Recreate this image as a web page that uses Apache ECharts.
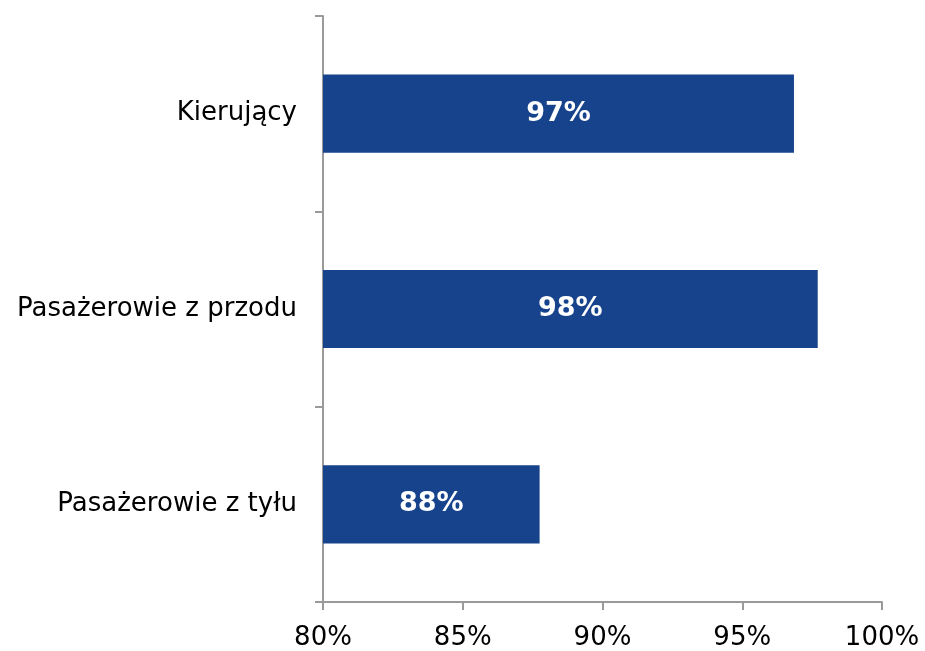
<!DOCTYPE html>
<html>
<head>
<meta charset="utf-8">
<script src="https://cdn.jsdelivr.net/npm/echarts@6/dist/echarts.min.js"></script>
<style>
html,body{margin:0;padding:0;background:#fff;}
#c{width:925px;height:651px;}
</style>
</head>
<body>
<div id="c"></div>
<script>
const categories = ['Kierujący', 'Pasażerowie z przodu', 'Pasażerowie z tyłu'];
const values = [96.85, 97.7, 87.75];
const valueLabels = ['97%', '98%', '88%'];

const chart = echarts.init(document.getElementById('c'), null, {renderer: 'canvas'});
const font = 'DejaVu Sans, Verdana, sans-serif';
chart.setOption({
  animation: false,
  backgroundColor: '#ffffff',
  grid: {left: 323, right: 43, top: 16, bottom: 47, containLabel: false},
  xAxis: {
    type: 'value',
    min: 80, max: 100, interval: 5,
    axisLine: {show: true, lineStyle: {color: '#9a9a9a', width: 2}},
    axisTick: {show: true, length: 8, lineStyle: {color: '#9a9a9a', width: 2}},
    splitLine: {show: false},
    axisLabel: {formatter: '{value}%', fontFamily: font, fontSize: 26, color: '#000', margin: 23}
  },
  yAxis: {
    type: 'category',
    inverse: true,
    data: categories,
    axisLine: {show: true, lineStyle: {color: '#9a9a9a', width: 2}},
    axisTick: {show: true, length: 8, lineStyle: {color: '#9a9a9a', width: 2}},
    axisLabel: {fontFamily: font, fontSize: 26, color: '#000', margin: 26}
  },
  series: [{
    type: 'bar',
    data: values,
    barWidth: '40%',
    itemStyle: {color: '#16438B'},
    label: {
      show: true, position: 'inside',
      formatter: p => valueLabels[p.dataIndex],
      fontFamily: font, fontSize: 27, fontWeight: 'bold', color: '#fff'
    }
  }]
});
</script>
</body>
</html>
